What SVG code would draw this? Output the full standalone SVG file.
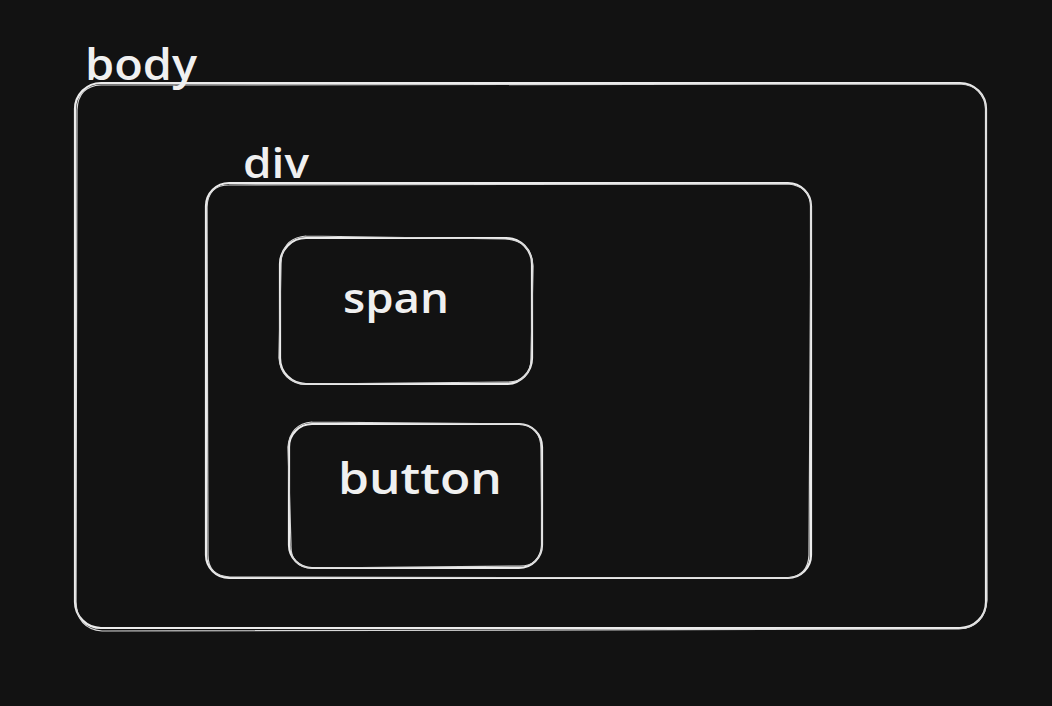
<svg xmlns="http://www.w3.org/2000/svg" width="1052" height="706" viewBox="0 0 1052 706">
<style>
.box{fill:none;stroke:#ececec;stroke-width:2.2;stroke-linecap:round}
.box2{fill:none;stroke:#d8d8d8;stroke-width:1.2;stroke-linecap:round}
.lbl{fill:#f0f0f0;font-family:"Open Sans","Liberation Sans",sans-serif;font-weight:600}
</style>
<rect width="1052" height="706" fill="#121212"/>
<g id="body">
<rect class="box" x="75" y="83" width="911" height="545" rx="26"/>
<path class="box2" d="M101 85 L960 84 Q985 86 986 110 L987 600 Q985 627 959 629 L102 631 Q77 629 76 602 L77 110 Q78 86 101 85"/>
<text class="lbl" x="85" y="80" font-size="44" textLength="112" lengthAdjust="spacingAndGlyphs">body</text>
</g>
<g id="div">
<rect class="box" x="206" y="183" width="605" height="395" rx="23"/>
<path class="box2" d="M229 185 L788 184 Q810 186 811 207 L809 555 Q808 577 786 578 L230 577 Q208 576 208 555 L207 207 Q208 185 229 185"/>
<text class="lbl" x="243" y="178" font-size="42" textLength="66" lengthAdjust="spacingAndGlyphs">div</text>
</g>
<g id="span">
<rect class="box" x="280" y="238" width="252" height="146" rx="26"/>
<path class="box2" d="M306 236 L505 239 Q531 240 533 266 L531 360 Q530 383 505 382 L305 384 Q281 382 279 358 L281 263 Q282 238 306 236"/>
<text class="lbl" x="343" y="313" font-size="42" textLength="106" lengthAdjust="spacingAndGlyphs">span</text>
</g>
<g id="button">
<rect class="box" x="289" y="424" width="253" height="144" rx="23"/>
<path class="box2" d="M312 422 L519 424 Q541 426 541 449 L542 545 Q540 567 518 566 L311 568 Q290 566 291 545 L288 447 Q290 424 312 422"/>
<text class="lbl" x="338" y="494" font-size="44" textLength="164" lengthAdjust="spacingAndGlyphs">button</text>
</g>
<g id="connectors"></g>
</svg>
